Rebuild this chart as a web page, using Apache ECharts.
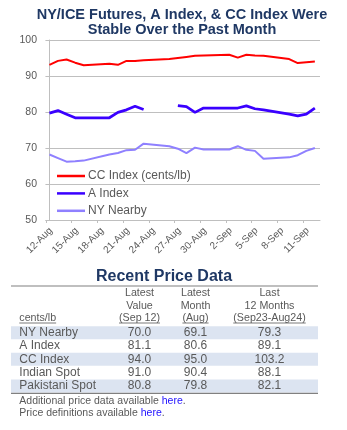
<!DOCTYPE html>
<html>
<head>
<meta charset="utf-8">
<script src="https://cdn.jsdelivr.net/npm/echarts@6/dist/echarts.min.js"></script>
<style>
html,body{margin:0;padding:0;background:#fff;}
#c{width:347px;height:430px;}
</style>
</head>
<body>
<div id="c"></div>
<script>
// ---- data ----
const axisDays = ['12-Aug','13-Aug','14-Aug','15-Aug','16-Aug','17-Aug','18-Aug','19-Aug','20-Aug','21-Aug','22-Aug',
  '23-Aug','24-Aug','25-Aug','26-Aug','27-Aug','28-Aug','29-Aug','30-Aug','31-Aug','1-Sep','2-Sep','3-Sep','4-Sep',
  '5-Sep','6-Sep','7-Sep','8-Sep','9-Sep','10-Sep','11-Sep','12-Sep','13-Sep'];
const tradeDays = ['12-Aug','13-Aug','14-Aug','15-Aug','16-Aug','19-Aug','20-Aug','21-Aug','22-Aug','23-Aug',
  '26-Aug','27-Aug','28-Aug','29-Aug','30-Aug','2-Sep','3-Sep','4-Sep','5-Sep','6-Sep','9-Sep','10-Sep','11-Sep','12-Sep'];
const ccIndex = [93.1,94.2,94.6,93.7,93.0,93.4,93.1,94.2,94.2,94.4,94.7,95.0,95.3,95.6,95.7,95.9,95.1,95.9,95.7,95.6,94.7,93.6,93.8,94.0];
const aIndex  = [79.7,80.4,79.4,78.4,78.4,78.4,79.9,80.6,81.6,80.7,null,81.8,81.5,79.9,81.1,81.1,81.1,81.7,80.9,80.6,79.4,78.9,79.4,81.1];
const nyNearby= [68.2,67.2,66.2,66.3,66.5,68.2,68.6,69.4,69.5,71.2,70.5,69.8,68.6,70.1,69.6,69.6,70.5,69.5,69.2,67.0,67.4,68.0,69.2,70.0];
const yTicks = [50,60,70,80,90,100];
const seriesNames = ['CC Index (cents/lb)','A Index','NY Nearby'];

const titleLines = ['NY/ICE Futures, A Index, & CC Index Were','Stable Over the Past Month'];
const tableTitle = 'Recent Price Data';
const headerCols = [['Latest','Value','(Sep 12)'],['Latest','Month','(Aug)'],['Last','12 Months','(Sep23-Aug24)']];
const unitLabel = 'cents/lb';
const rowLabels = ['NY Nearby','A Index','CC Index','Indian Spot','Pakistani Spot'];
const latestValue = ['70.0','81.1','94.0','91.0','80.8'];
const latestMonth = ['69.1','80.6','95.0','90.4','79.8'];
const last12Months = ['79.3','89.1','103.2','88.1','82.1'];
const footLines = [['Additional price data available ','here','.'],['Price definitions available ','here','.']];

// ---- build ----
const FONT = "'Liberation Sans', Arial, sans-serif";
const GRAY = '#595959';
function pairs(vals){ return tradeDays.map((d,i)=>[axisDays.indexOf(d), vals[i]==null?'-':vals[i]]); }

const ctx = document.createElement('canvas').getContext('2d');
function tw(t, size){ ctx.font = size+'px '+FONT; return ctx.measureText(t).width; }

const g = [];
titleLines.forEach((t,i)=>g.push({type:'text', style:{text:t, x:182, y:15+i*15, align:'center', verticalAlign:'middle',
  font:'bold 14.5px '+FONT, fill:'#1F3864'}}));
g.push({type:'text', style:{text:tableTitle, x:164, y:277, align:'center', verticalAlign:'middle', font:'bold 16px '+FONT, fill:'#1F3864'}});
g.push({type:'line', shape:{x1:11,y1:286,x2:318,y2:286}, style:{stroke:'#808080', lineWidth:1.2}});
const colX = [139.5,195.5,269.5];
const hdrY = [293.5,306,318.3];
headerCols.forEach((col,ci)=>col.forEach((t,ri)=>{
  g.push({type:'text', style:{text:t, x:colX[ci], y:hdrY[ri], align:'center', verticalAlign:'middle', font:'10.7px '+FONT, fill:GRAY}});
  if (ri===2){ const w=tw(t,10.7); g.push({type:'line', shape:{x1:colX[ci]-w/2,y1:323,x2:colX[ci]+w/2,y2:323}, style:{stroke:GRAY,lineWidth:0.8}}); }
}));
g.push({type:'text', style:{text:unitLabel, x:19.3, y:hdrY[2], align:'left', verticalAlign:'middle', font:'10.7px '+FONT, fill:GRAY}});
{ const w=tw(unitLabel,10.7); g.push({type:'line', shape:{x1:19.3,y1:323,x2:19.3+w,y2:323}, style:{stroke:GRAY,lineWidth:0.8}}); }
const rowY0 = 332.7, rowH = 13.3;
rowLabels.forEach((lab,i)=>{
  const y = rowY0 + i*rowH;
  if (i%2===0) g.push({type:'rect', shape:{x:11,y:y-6.5,width:307,height:13}, style:{fill:'#DCE4F1'}, z:-1});
  g.push({type:'text', style:{text:lab, x:19.3, y:y, align:'left', verticalAlign:'middle', font:'12px '+FONT, fill:GRAY}});
  [latestValue,latestMonth,last12Months].forEach((arr,ci)=>g.push({type:'text', style:{text:arr[i], x:colX[ci], y:y, align:'center', verticalAlign:'middle', font:'12px '+FONT, fill:GRAY}}));
});
g.push({type:'line', shape:{x1:11,y1:393.3,x2:318,y2:393.3}, style:{stroke:'#808080', lineWidth:1.2}});
footLines.forEach((parts,i)=>g.push({type:'text', style:{text:'{a|'+parts[0]+'}{b|'+parts[1]+'}{a|'+parts[2]+'}', x:19.3, y:400.7+i*12, align:'left', verticalAlign:'middle',
  rich:{a:{fontSize:10.5, fontFamily:FONT, fill:GRAY, color:GRAY}, b:{fontSize:10.5, fontFamily:FONT, fill:'#1F0FFF', color:'#1F0FFF'}}}}));

const chart = echarts.init(document.getElementById('c'), null, {renderer:'canvas'});
chart.setOption({
  animation:false,
  backgroundColor:'#fff',
  textStyle:{fontFamily:FONT},
  grid:{left:46, top:40, width:274, height:180, containLabel:false},
  legend:{orient:'vertical', left:52, top:164, icon:'rect', itemWidth:28, itemHeight:2.5, itemGap:3.4,
    textStyle:{fontSize:12, color:GRAY, fontFamily:FONT, padding:[0,0,0,-2], lineHeight:14}, data:seriesNames},
  xAxis:[
    {type:'category', data:axisDays, boundaryGap:false,
     axisLine:{lineStyle:{color:'#BFBFBF'}},
     axisTick:{show:true, interval:2, length:3, lineStyle:{color:'#BFBFBF'}},
     axisLabel:{interval:2, rotate:45, fontSize:10, color:GRAY, fontFamily:FONT, margin:14, padding:[0,-7,0,0]},
     splitLine:{show:false}},
    {type:'value', min:-0.4, max:31.6, show:false}
  ],
  yAxis:{type:'value', min:yTicks[0], max:yTicks[yTicks.length-1], interval:10,
    axisLine:{show:true, lineStyle:{color:'#BFBFBF'}},
    axisTick:{show:true, length:4, lineStyle:{color:'#BFBFBF'}},
    axisLabel:{fontSize:10.5, color:GRAY, fontFamily:FONT, margin:9},
    splitLine:{lineStyle:{color:'#BFBFBF', width:1}}},
  series:[
    {name:seriesNames[0], type:'line', xAxisIndex:1, data:pairs(ccIndex), symbol:'none', color:'#FF0000', lineStyle:{width:2, color:'#FF0000'}},
    {name:seriesNames[1], type:'line', xAxisIndex:1, data:pairs(aIndex), symbol:'none', color:'#3A00FF', lineStyle:{width:2.75, color:'#3A00FF'}, connectNulls:false},
    {name:seriesNames[2], type:'line', xAxisIndex:1, data:pairs(nyNearby), symbol:'none', color:'#8F80FF', lineStyle:{width:2, color:'#8F80FF'}}
  ],
  graphic:g
});
</script>
</body>
</html>
